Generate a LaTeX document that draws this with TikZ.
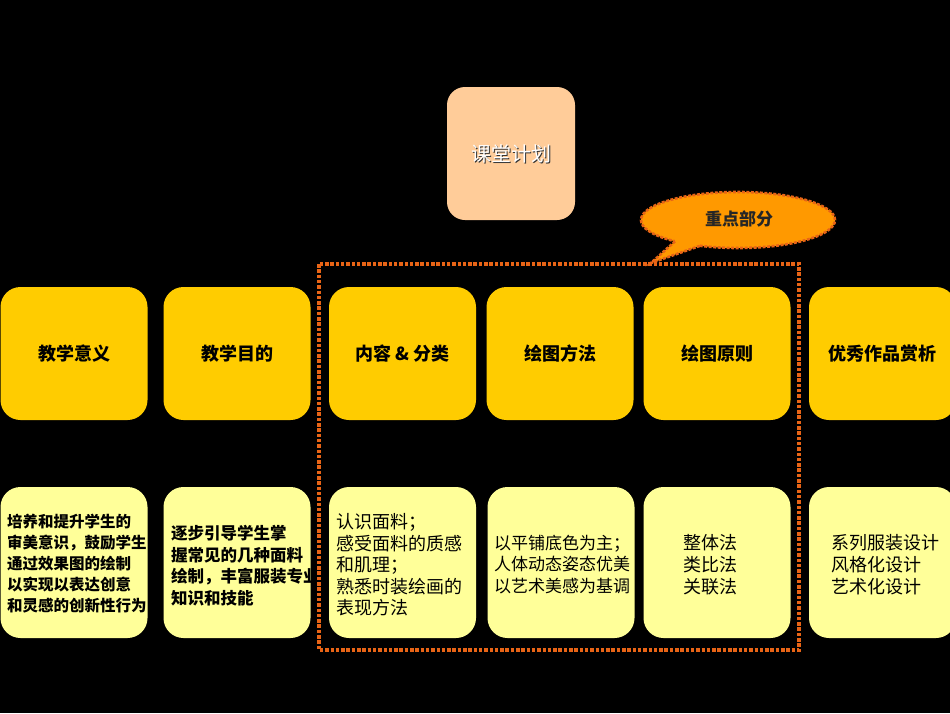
\documentclass[tikz,border=0pt]{standalone}
\usepackage{fontspec}
\setmainfont{Noto Sans CJK SC}
\usetikzlibrary{shapes.geometric}
\definecolor{ygold}{HTML}{FFCC00}
\definecolor{ylight}{HTML}{FFFF99}
\definecolor{peach}{HTML}{FFCC99}
\definecolor{callfill}{HTML}{FF9900}
\definecolor{dashcol}{RGB}{232,100,22}
\tikzset{
  headbox/.style={draw=none, fill=ygold, rounded corners=20pt, minimum width=147pt, minimum height=133pt, inner sep=0pt, font=\fontsize{18}{18}\selectfont\bfseries},
  infobox/.style={draw=none, fill=ylight, rounded corners=20pt, minimum width=147pt, minimum height=151pt, inner sep=0pt},
  infotext/.style={anchor=west, align=left, inner sep=0pt, text=black},
  dashline/.style={draw=dashcol, line width=3.4pt, dash pattern=on 3.5pt off 1.8pt},
  calloutline/.style={draw=dashcol, line width=2.6pt, dash pattern=on 3pt off 1.5pt},
}
\begin{document}
\begin{tikzpicture}[x=1pt,y=-1pt]
\path[use as bounding box, fill=black] (0,0) rectangle (950,713);

% top box
\node[fill=peach, rounded corners=18pt, minimum width=128pt, minimum height=133pt, inner sep=0pt] (plan) at (511,153.5) {};
\node[text=black!80, font=\fontsize{20}{20}\selectfont, inner sep=0pt] (planshadow) at (512.3,154.8) {课堂计划};
\node[text=white, font=\fontsize{20}{20}\selectfont, inner sep=0pt] (plantext) at (511,153.5) {课堂计划};

% header row
\node[headbox] (h1) at (74,353.5) {教学意义};
\node[headbox] (h2) at (237,353.5) {教学目的};
\node[headbox] (h3) at (402.5,353.5) {内容 \& 分类};
\node[headbox] (h4) at (560,353.5) {绘图方法};
\node[headbox] (h5) at (717,353.5) {绘图原则};
\node[headbox] (h6) at (882.5,353.5) {优秀作品赏析};

% info row
\node[infobox] (b1) at (74,562.5) {};
\node[infobox] (b2) at (237,562.5) {};
\node[infobox] (b3) at (402.5,562.5) {};
\node[infobox] (b4) at (561,562.5) {};
\node[infobox] (b5) at (717,562.5) {};
\node[infobox] (b6) at (882.5,562.5) {};

\node[infotext, font=\fontsize{15.5}{21}\selectfont\bfseries] (t1) at (7,564) {培养和提升学生的\\审美意识，鼓励学生\\通过效果图的绘制\\以实现以表达创意\\和灵感的创新性行为};
\node[infotext, font=\fontsize{16.5}{21.7}\selectfont\bfseries] (t2) at (171,565.5) {逐步引导学生掌\\握常见的几种面料\\绘制，丰富服装专业\\知识和技能};
\node[infotext, font=\fontsize{18}{21.5}\selectfont] (t3) at (336,565) {认识面料；\\感受面料的质感\\和肌理；\\熟悉时装绘画的\\表现方法};
\node[infotext, font=\fontsize{17}{21.5}\selectfont] (t4) at (494,564.5) {以平铺底色为主；\\人体动态姿态优美\\以艺术美感为基调};
\node[infotext, font=\fontsize{18}{22}\selectfont] (t5) at (683,564.5) {整体法\\类比法\\关联法};
\node[infotext, font=\fontsize{18}{22}\selectfont] (t6) at (831,564.5) {系列服装设计\\风格化设计\\艺术化设计};

% dashed highlight frame
\draw[dashline] (319,264) rectangle (799,650);

% callout
\coordinate (tip) at (651,263);
\coordinate (tl) at (675,241.3);
\coordinate (tr) at (700,245.8);
\node[ellipse, fill=callfill, calloutline, minimum width=194pt, minimum height=56pt, inner sep=0pt] (callout) at (738,220) {};
\fill[callfill] (tl) -- (tip) -- (tr) -- (700,236) -- (675,234) -- cycle;
\draw[calloutline] (tl) -- (tip) -- (tr);
\node[font=\fontsize{17}{17}\selectfont\bfseries, text=black!85, inner sep=0pt] (calltext) at (739,219) {重点部分};
\end{tikzpicture}
\end{document}
